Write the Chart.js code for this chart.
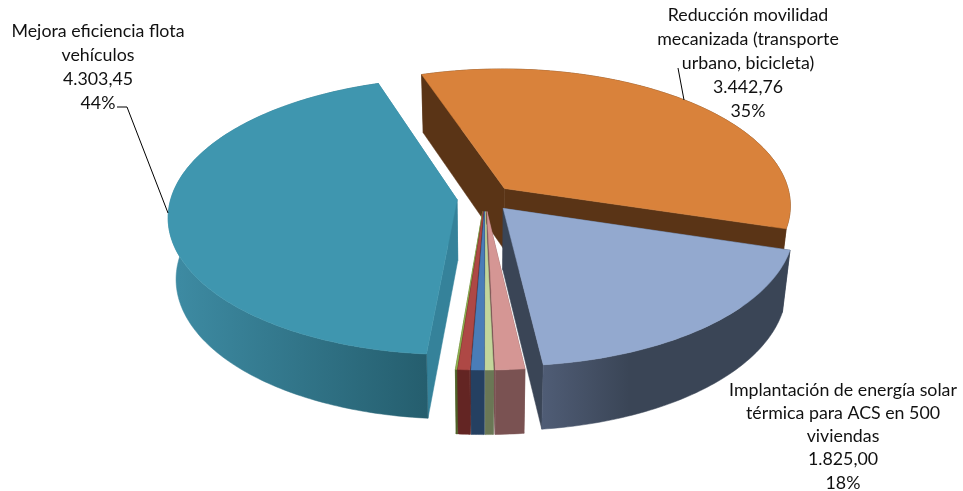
<!DOCTYPE html>
<html><head><meta charset="utf-8">
<style>html,body{margin:0;padding:0;background:#fff}#wrap{width:963px;height:491px}</style>
<script src="https://cdn.jsdelivr.net/npm/chart.js@4/dist/chart.umd.min.js"></script>
</head><body><div id="wrap"><canvas id="c" width="963" height="491"></canvas></div>
<script>
const categories=["Reducción movilidad mecanizada (transporte urbano, bicicleta)","Implantación de energía solar térmica para ACS en 500 viviendas","Medida 3","Medida 4","Medida 5","Medida 6","Medida 7","Mejora eficiencia flota vehículos"];
const values=[3442.76,1825.00,142,40,62,58,8,4303.45];
const topColors=["#D9823B","#93A9CF","#D59694","#C3D69B","#4A7DB8","#AE4845","#8FB04F","#3F96AF"];
const wallLeft=["#5A3416","#4F5C75","#7A5252","#6A7755","#254061","#632523","#4F6228","#3E8CA4"];
const wallRight=["#5A3416","#3A4556","#7A5252","#6A7755","#254061","#632523","#4F6228","#255E6E"];
const radialWall=["#5A3416","#3A4556","#7A5252","#6A7755","#254061","#632523","#4F6228","#35829A"];
const paintOrder=[0,7,1,6,5,2,3,4];
const labelLines={0:["Reducción movilidad","mecanizada (transporte","urbano, bicicleta)"],1:["Implantación de energía solar","térmica para ACS en 500","viviendas"],7:["Mejora eficiencia flota","vehículos"]};
const labelCenterX={0:748,1:843,7:98};
const labelFirstY={0:15,1:390,7:31};
const labelStep={0:24,1:23.2,7:24};
const leaders=[[[117,107],[127,107],[168,213]],[[678,68],[684,100]]];
const view={cx:485,cy:198,rx:286,ry:136,persp:0.12,depth:61,shrink:0.025};
const fmtEs=v=>v.toLocaleString("es-ES",{minimumFractionDigits:2,maximumFractionDigits:2,useGrouping:true}).replace(/^(\d)(\d{3},)/,"$1.$2");

function project(X,Y,z){
  const w=1/(1-view.persp*Y);
  return [view.cx+X*view.rx*w*(1-z*view.shrink), view.cy+Y*view.ry*w+z*view.depth*Math.pow(w,0.4)];
}
function poly(ctx,pts,fill){
  ctx.beginPath();pts.forEach((p,i)=>i?ctx.lineTo(p[0],p[1]):ctx.moveTo(p[0],p[1]));ctx.closePath();
  ctx.fillStyle=fill;ctx.fill();ctx.strokeStyle=fill;ctx.lineWidth=0.5;ctx.stroke();
}
const pie3d={
  id:"pie3d",
  beforeDatasetDraw(chart,args){
    const ctx=chart.ctx,arcs=chart.getDatasetMeta(args.index).data;
    const total=values.reduce((a,b)=>a+b,0);
    paintOrder.forEach(i=>{
      const a=arcs[i],mid=(a.startAngle+a.endAngle)/2,off=a.options.offset/a.outerRadius;
      const ox=Math.cos(mid)*off,oy=Math.sin(mid)*off;
      const rim=[],n=Math.max(4,Math.ceil((a.endAngle-a.startAngle)*60));
      for(let k=0;k<=n;k++){const t=a.startAngle+(a.endAngle-a.startAngle)*k/n;rim.push([ox+Math.cos(t),oy+Math.sin(t)]);}
      const top=rim.map(p=>project(p[0],p[1],0)),bot=rim.map(p=>project(p[0],p[1],1));
      const c0=project(ox,oy,0),c1=project(ox,oy,1);
      poly(ctx,[c0,top[0],bot[0],c1],radialWall[i]);
      poly(ctx,[c0,top[n],bot[n],c1],radialWall[i]);
      const xs=top.map(p=>p[0]);
      const g=ctx.createLinearGradient(Math.min(...xs),0,Math.max(...xs),0);
      g.addColorStop(0,wallLeft[i]);g.addColorStop(i===1?0.35:1,wallRight[i]);
      poly(ctx,top.concat(bot.slice().reverse()),g);
      poly(ctx,[c0].concat(top),topColors[i]);
    });
    ctx.save();
    ctx.strokeStyle="#000";ctx.lineWidth=1;
    leaders.forEach(l=>{ctx.beginPath();l.forEach((p,i)=>i?ctx.lineTo(p[0],p[1]):ctx.moveTo(p[0],p[1]));ctx.stroke();});
    ctx.font="17.8px Lato, Carlito, sans-serif";ctx.fillStyle="#111";ctx.textAlign="center";ctx.textBaseline="middle";
    Object.keys(labelLines).forEach(k=>{
      const pct=Math.round(values[k]/total*100)+"%";
      labelLines[k].concat([fmtEs(values[k]),pct]).forEach((s,j)=>ctx.fillText(s,labelCenterX[k],labelFirstY[k]+j*labelStep[k]));
    });
    ctx.restore();
    return false;
  }
};
new Chart(document.getElementById("c"),{
  type:"pie",
  data:{labels:categories,datasets:[{data:values,backgroundColor:topColors,offset:23,borderWidth:0}]},
  options:{responsive:false,animation:false,rotation:-18.5,plugins:{legend:{display:false},tooltip:{enabled:false}}},
  plugins:[pie3d]
});
</script></body></html>
